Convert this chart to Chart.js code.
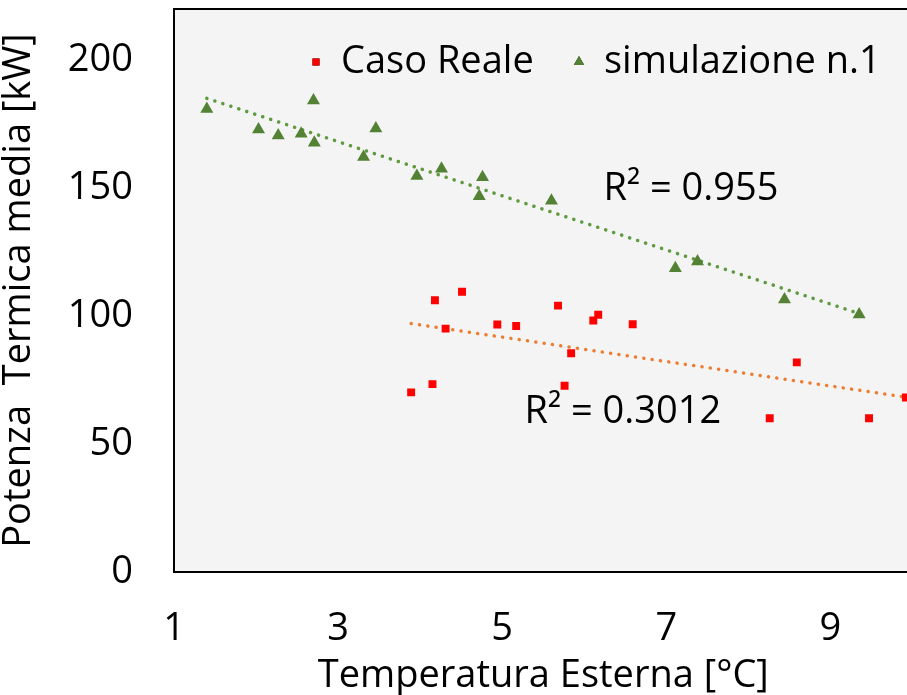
<!DOCTYPE html>
<html>
<head>
<meta charset="utf-8">
<script src="https://cdn.jsdelivr.net/npm/chart.js@4/dist/chart.umd.min.js"></script>
<style>
  html, body { margin: 0; padding: 0; background: #fff; overflow: hidden; }
  #wrap { width: 920px; height: 695px; }
</style>
</head>
<body>
<div id="wrap"><canvas id="chart"></canvas></div>
<script>
// Caso Reale (temperatura esterna, potenza)
const realeX = [3.89, 4.15, 4.18, 4.31, 4.51, 4.94, 5.17, 5.68, 5.76, 5.84, 6.11, 6.17, 6.59, 8.26, 8.59, 9.47, 9.92];
const realeY = [70.2, 73.4, 106.2, 95.1, 109.5, 96.7, 96.1, 104.1, 72.8, 85.5, 98.3, 100.5, 96.8, 60.1, 81.9, 60.1, 68.2];

// simulazione n.1
const simX = [1.40, 2.03, 2.27, 2.55, 2.70, 2.71, 3.31, 3.46, 3.96, 4.26, 4.72, 4.76, 5.60, 7.11, 7.38, 8.44, 9.35];
const simY = [180.9, 172.9, 170.6, 171.3, 184.2, 167.7, 162.2, 173.3, 154.7, 157.6, 146.8, 154.3, 145.1, 118.7, 121.3, 106.5, 100.6];

// linee di tendenza (estremi)
const trendRealeX = [3.89, 9.92];
const trendRealeY = [97.1, 68.3];
const trendSimX = [1.40, 9.35];
const trendSimY = [185.1, 101.0];

const r2Labels = ['R² = 0.955', 'R² = 0.3012'];
const xTicks = [1, 3, 5, 7, 9];
const yTicks = [0, 50, 100, 150, 200];

const FONT = '"Open Sans"';
const toPoints = (xs, ys) => xs.map((x, i) => ({ x: x, y: ys[i] }));

// sfondo grigio + cornice nera dell'area del grafico
const plotBox = {
  id: 'plotBox',
  beforeDraw(chart) {
    const { ctx, chartArea: a } = chart;
    ctx.save();
    ctx.fillStyle = '#f4f4f4';
    ctx.fillRect(a.left, a.top, a.width, a.height);
    ctx.restore();
  },
  afterDraw(chart) {
    const { ctx, chartArea: a } = chart;
    ctx.save();
    ctx.strokeStyle = '#000';
    ctx.lineWidth = 2;
    ctx.strokeRect(a.left, a.top, a.width, a.height);
    ctx.restore();
  }
};

// etichette R² e legenda dentro l'area
const annotations = {
  id: 'annotations',
  afterDatasetsDraw(chart, args, opts) {
    const { ctx, scales } = chart;
    ctx.save();
    ctx.font = '38px ' + FONT;
    ctx.fillStyle = '#000';
    ctx.textAlign = 'center';
    ctx.textBaseline = 'middle';
    opts.labels.forEach(l => {
      ctx.fillText(l.text, scales.x.getPixelForValue(l.x), scales.y.getPixelForValue(l.y));
    });

    // legenda
    ctx.textAlign = 'left';
    opts.legend.forEach(item => {
      const ds = chart.data.datasets[item.dataset];
      Chart.helpers.drawPoint(ctx, {
        pointStyle: ds.pointStyle,
        radius: item.radius,
        borderWidth: 0
      }, item.x, item.y);
      ctx.fillStyle = ds.backgroundColor;
      ctx.fill();
      ctx.fillStyle = '#000';
      ctx.fillText(ds.label, item.x + 25, item.y);
    });
    ctx.restore();
  }
};

new Chart(document.getElementById('chart'), {
  type: 'scatter',
  data: {
    datasets: [
      {
        label: 'Caso Reale',
        data: toPoints(realeX, realeY),
        pointStyle: 'rect',
        pointRadius: 5.6,
        backgroundColor: '#ff0000',
        borderWidth: 0,
        order: 1
      },
      {
        label: 'simulazione n.1',
        data: toPoints(simX, simY),
        pointStyle: 'triangle',
        pointRadius: 7.5,
        backgroundColor: '#548235',
        borderWidth: 0,
        order: 1
      },
      {
        label: 'trend reale',
        type: 'line',
        data: toPoints(trendRealeX, trendRealeY),
        borderColor: '#ed7d31',
        borderWidth: 3.5,
        borderDash: [0.1, 8.3],
        borderCapStyle: 'round',
        pointRadius: 0,
        fill: false,
        order: 2
      },
      {
        label: 'trend sim',
        type: 'line',
        data: toPoints(trendSimX, trendSimY),
        borderColor: '#5e9a3e',
        borderWidth: 3.5,
        borderDash: [0.1, 8.3],
        borderCapStyle: 'round',
        pointRadius: 0,
        fill: false,
        order: 2
      }
    ]
  },
  options: {
    responsive: true,
    maintainAspectRatio: false,
    animation: false,
    layout: { padding: { top: 9, right: 7, left: 0, bottom: 0 } },
    plugins: {
      legend: { display: false },
      tooltip: { enabled: false },
      annotations: {
        labels: [
          { text: r2Labels[0], x: 7.30, y: 149.7 },
          { text: r2Labels[1], x: 6.47, y: 62.5 }
        ],
        legend: [
          { dataset: 0, x: 316, y: 62, radius: 5 },
          { dataset: 1, x: 579, y: 62, radius: 6 }
        ]
      }
    },
    scales: {
      x: {
        type: 'linear',
        min: 1,
        max: 10,
        afterBuildTicks: axis => { axis.ticks = xTicks.map(v => ({ value: v })); },
        afterFit: axis => { axis.height = 123; axis.paddingLeft = 0; axis.paddingRight = 0; },
        grid: { display: false, drawTicks: false },
        border: { display: false },
        ticks: {
          color: '#000',
          padding: 34,
          font: { family: FONT, size: 38 }
        },
        title: {
          display: true,
          text: 'Temperatura Esterna [°C]',
          color: '#000',
          padding: { top: 0, bottom: 0 },
          font: { family: FONT, size: 38, lineHeight: 1 }
        }
      },
      y: {
        min: 0,
        max: 220,
        afterBuildTicks: axis => { axis.ticks = yTicks.map(v => ({ value: v })); },
        afterFit: axis => { axis.width = 174; axis.paddingTop = 0; axis.paddingBottom = 0; },
        grid: { display: false, drawTicks: false },
        border: { display: false },
        ticks: {
          color: '#000',
          padding: 41,
          font: { family: FONT, size: 38 }
        },
        title: {
          display: true,
          text: 'Potenza  Termica media [kW]',
          color: '#000',
          padding: { top: 0, bottom: 0 },
          font: { family: FONT, size: 38, lineHeight: 1 }
        }
      }
    }
  },
  plugins: [plotBox, annotations]
});
</script>
</body>
</html>
